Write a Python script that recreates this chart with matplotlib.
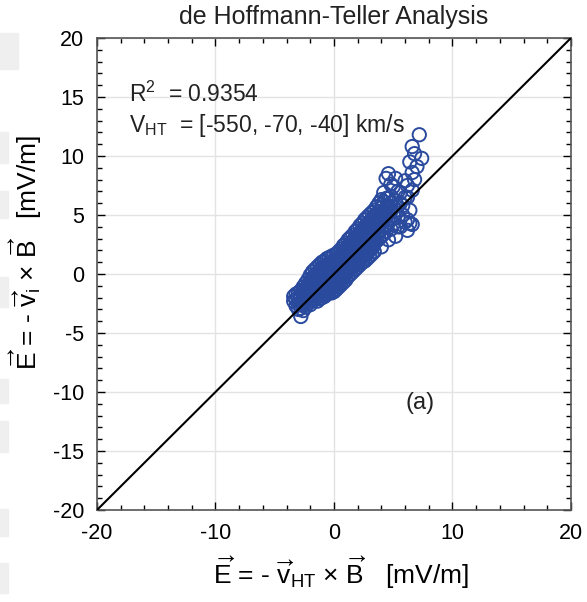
import matplotlib
matplotlib.use('Agg')
import matplotlib.pyplot as plt
from matplotlib.ticker import MultipleLocator
from matplotlib.patches import Rectangle

plt.rcParams['font.family'] = ['Liberation Sans', 'DejaVu Sans']
plt.rcParams['mathtext.fontset'] = 'custom'
plt.rcParams['mathtext.rm'] = 'Liberation Sans'
plt.rcParams['mathtext.it'] = 'Liberation Sans'
plt.rcParams['axes.unicode_minus'] = False

# 每一列的 E_ht 值, 以及该列上读到的 E_i 值 (mV/m)
col_x = [-3.4, -3.2, -3.0, -2.8, -2.6, -2.4, -2.2, -2.0, -1.8, -1.6,
         -1.4, -1.2, -1.0, -0.8, -0.6, -0.4, -0.2, 0.0, 0.2, 0.4,
         0.6, 0.8, 1.0, 1.2, 1.4, 1.6, 1.8, 2.0, 2.2, 2.4,
         2.6, 2.8, 3.0, 3.2, 3.4, 3.6, 3.8, 4.0, 4.2, 4.4,
         4.6, 4.8, 5.0, 5.2, 5.4, 5.6, 5.8, 6.0, 6.2, 6.4,
         6.6, 6.8, 7.0, 7.2, 7.4]
col_y = [[-1.9, -2.3],
         [-1.7, -2.2, -2.7],
         [-1.6, -2.0, -2.5, -3.0],
         [-1.4, -1.9, -2.4, -2.9, -3.6],
         [-1.1, -1.6, -2.1, -2.6, -3.1],
         [-0.8, -1.3, -1.8, -2.3, -2.8],
         [-0.5, -1.0, -1.5, -2.0, -2.5],
         [-0.1, -0.6, -1.1, -1.6, -2.1, -2.6],
         [0.2, -0.3, -0.8, -1.3, -1.8, -2.3],
         [0.4, -0.1, -0.6, -1.1, -1.6, -2.1],
         [0.6, 0.1, -0.4, -0.9, -1.4, -1.9, -2.3],
         [0.8, 0.3, -0.2, -0.7, -1.2, -1.7, -2.1],
         [1.0, 0.5, 0.0, -0.5, -1.0, -1.5, -2.0],
         [1.1, 0.6, 0.1, -0.4, -0.9, -1.4, -1.9],
         [1.3, 0.8, 0.3, -0.2, -0.7, -1.2, -1.7],
         [1.4, 0.9, 0.4, -0.1, -0.6, -1.1, -1.6],
         [1.5, 1.0, 0.5, 0.0, -0.5, -1.0, -1.6],
         [1.6, 1.1, 0.6, 0.1, -0.4, -0.9, -1.5],
         [1.7, 1.2, 0.7, 0.2, -0.3, -0.8, -1.3],
         [1.9, 1.4, 0.9, 0.4, -0.1, -0.6, -1.1],
         [2.1, 1.6, 1.1, 0.6, 0.1, -0.4, -0.9],
         [2.4, 1.9, 1.4, 0.9, 0.4, -0.1, -0.7],
         [2.6, 2.1, 1.6, 1.1, 0.6, 0.1, -0.5],
         [2.9, 2.4, 1.9, 1.4, 0.9, 0.4, -0.2],
         [3.1, 2.6, 2.1, 1.6, 1.1, 0.6, 0.0],
         [3.3, 2.8, 2.3, 1.8, 1.3, 0.8, 0.2],
         [3.6, 3.1, 2.6, 2.1, 1.6, 1.0, 0.4],
         [3.8, 3.3, 2.8, 2.3, 1.8, 1.2, 0.6],
         [4.1, 3.5, 3.0, 2.5, 2.0, 1.4, 0.8],
         [4.3, 3.8, 3.2, 2.7, 2.2, 1.6, 1.0],
         [4.6, 4.0, 3.4, 2.9, 2.4, 1.8, 1.1],
         [4.8, 4.2, 3.6, 3.1, 2.6, 2.0, 1.3],
         [5.0, 4.4, 3.8, 3.3, 2.8, 2.2, 1.5],
         [5.2, 4.6, 4.0, 3.5, 3.0, 2.4, 1.7],
         [5.4, 4.8, 4.2, 3.7, 3.2, 2.6, 1.9],
         [5.7, 5.1, 4.5, 3.9, 3.4, 2.8],
         [6.0, 5.3, 4.7, 4.1, 3.6, 3.0],
         [6.3, 5.6, 4.9, 4.3, 3.8, 3.2, 2.3],
         [6.9, 6.1, 5.3, 4.6, 4.0, 3.4],
         [8.1, 6.4, 5.6, 4.9, 4.2, 3.6],
         [8.5, 6.4, 5.8, 5.1, 4.4, 2.9],
         [7.6, 6.6, 6.0, 5.3, 4.6, 3.8],
         [7.4, 5.7, 5.0, 4.2],
         [8.1, 6.2, 5.4, 3.2],
         [7.0, 4.8, 4.0],
         [6.9, 6.0, 4.0],
         [5.8, 5.0],
         [7.9, 6.5, 4.4],
         [7.5, 6.5, 4.6, 3.7],
         [9.5, 5.4, 4.3],
         [10.8, 8.6, 7.1, 4.2],
         [10.2, 8.0],
         [9.1],
         [11.8],
         [9.8]]

# 核心区域里错开的补充点
core_x = [-2.5, -2.3, -2.1, -1.9, -1.7, -1.5, -1.3, -1.1, -0.9, -0.7,
          -0.5, -0.3, -0.1, 0.1, 0.3, 0.5, 0.7, 0.9, 1.1, 1.3,
          1.5, 1.7, 1.9, 2.1, 2.3, 2.5, 2.7, 2.9, 3.1, 3.3]
core_y = [[-1.35, -1.85, -2.35],
          [-1.1, -1.6, -2.1],
          [-0.85, -1.35, -1.85],
          [-0.55, -1.05, -1.55, -2.05],
          [-0.35, -0.85, -1.35, -1.85],
          [-0.15, -0.65, -1.15, -1.65],
          [0.05, -0.45, -0.95, -1.45],
          [0.25, -0.25, -0.75, -1.25],
          [0.35, -0.15, -0.65, -1.15],
          [0.55, 0.05, -0.45, -0.95],
          [0.65, 0.15, -0.35, -0.85, -1.35],
          [0.75, 0.25, -0.25, -0.75, -1.25],
          [0.85, 0.35, -0.15, -0.65, -1.15],
          [0.95, 0.45, -0.05, -0.55, -1.05],
          [1.15, 0.65, 0.15, -0.35, -0.85],
          [1.35, 0.85, 0.35, -0.15, -0.65],
          [1.6, 1.1, 0.6, 0.1, -0.4],
          [1.85, 1.35, 0.85, 0.35, -0.15],
          [2.1, 1.6, 1.1, 0.6, 0.1],
          [2.35, 1.85, 1.35, 0.85, 0.35],
          [2.55, 2.05, 1.55, 1.05, 0.55],
          [2.8, 2.3, 1.8, 1.3, 0.7],
          [3.0, 2.5, 2.0, 1.5, 0.9],
          [3.25, 2.75, 2.2, 1.7, 1.1],
          [3.5, 3.0, 2.45, 1.9, 1.3],
          [3.7, 3.2, 2.65, 2.1, 1.5],
          [3.95, 3.4, 2.85, 2.3, 1.7],
          [4.15, 3.6, 3.05, 2.5, 1.9],
          [4.35, 3.8, 3.25, 2.7, 2.1],
          [4.55, 4.0, 3.45, 2.9, 2.3]]

r2 = 0.9354
v_ht = [-550, -70, -40]

e_ht = []
e_i = []
for x, ys in list(zip(col_x, col_y)) + list(zip(core_x, core_y)):
    for y in ys:
        e_ht.append(x)
        e_i.append(y)

fig = plt.figure(figsize=(5.87, 6.02), dpi=100)

# 左侧的浅灰色残影
for y0, h, w in [(0.885, 0.06, 0.03), (0.73, 0.05, 0.013), (0.638, 0.045, 0.013), (0.49, 0.05, 0.013),
                 (0.33, 0.04, 0.013), (0.25, 0.05, 0.013), (0.11, 0.045, 0.013), (0.015, 0.05, 0.013)]:
    fig.patches.append(Rectangle((0, y0), w, h, transform=fig.transFigure,
                                 color='#efefef', zorder=0))

ax = fig.add_axes([0.1652, 0.1528, 0.8075, 0.7841])
ax.scatter(e_ht, e_i, s=92, facecolors='none', edgecolors='#2a4a9e', linewidths=1.4, zorder=2)
ax.plot([-20, 20], [-20, 20], color='black', lw=1.5, zorder=3)

ax.set_xlim(-20, 20)
ax.set_ylim(-20, 20)
ax.xaxis.set_major_locator(MultipleLocator(10))
ax.xaxis.set_minor_locator(MultipleLocator(2))
ax.yaxis.set_major_locator(MultipleLocator(5))
ax.yaxis.set_minor_locator(MultipleLocator(1))
ax.tick_params(which='both', direction='in', top=True, right=True, labelsize=15.5, colors='black')
ax.tick_params(which='major', length=6, width=1)
ax.tick_params(which='minor', length=3.5, width=1)
ax.tick_params(axis='x', which='major', pad=9)
ax.tick_params(axis='y', which='major', pad=9)
ax.grid(True, which='major', color='#e3e3e3', lw=1)
ax.set_axisbelow(True)
for s in ax.spines.values():
    s.set_color('#555555')
    s.set_linewidth(1.2)

ax.set_title('de Hoffmann-Teller Analysis', fontsize=18, pad=10, color='#222222')
ax.set_xlabel(r'$\overrightarrow{\mathrm{E}}$ = - $\overrightarrow{\mathrm{v}}_{\mathrm{HT}}$ × $\overrightarrow{\mathrm{B}}$   [mV/m]',
              fontsize=19, labelpad=3)
ax.xaxis.set_label_coords(0.515, -0.095)
ax.set_ylabel(r'$\overrightarrow{\mathrm{E}}$ = - $\overrightarrow{\mathrm{v}}_{\mathrm{i}}$ × $\overrightarrow{\mathrm{B}}$   [mV/m]',
              fontsize=19)
ax.yaxis.set_label_coords(-0.112, 0.545)

ax.text(-17.3, 15.2, r'R$^2$  = %.4f' % r2, fontsize=16.5, va='center', color='#222222')
ax.text(-17.3, 12.6, r'V$_{\mathrm{HT}}$  = [%d, %d, %d] km/s' % tuple(v_ht), fontsize=16.5,
        va='center', color='#222222')
ax.text(6.0, -10.9, '(a)', fontsize=17, va='center', color='#222222')

plt.savefig('out.png', dpi=100)
